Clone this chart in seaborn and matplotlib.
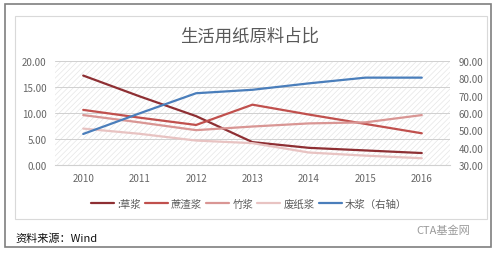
import matplotlib
matplotlib.use("Agg")
import matplotlib.pyplot as plt
import matplotlib.patches as mpatches
from matplotlib.ticker import FormatStrFormatter, FixedLocator
import seaborn as sns
import pandas as pd

years = [2010, 2011, 2012, 2013, 2014, 2015, 2016]
cao = [17.2, 13.2, 9.4, 4.4, 3.3, 2.8, 2.3]
zhezha = [10.6, 9.1, 7.7, 11.6, 9.7, 7.9, 6.1]
zhu = [9.6, 8.2, 6.7, 7.4, 8.0, 8.2, 9.6]
feizhi = [7.0, 6.0, 4.7, 4.2, 2.4, 1.8, 1.3]
mu = [47.9, 59.8, 71.4, 73.4, 77.1, 80.4, 80.4]

names = [":草浆", "蔗渣浆", "竹浆", "废纸浆"]
mu_name = "木浆（右轴）"
title = "生活用纸原料占比"
source = "资料来源：Wind"
colors = ["#8E2F33", "#C0504D", "#D99694", "#E8C3C2"]
blue = "#4A7EBB"

sns.set_theme(style="white")
plt.rcParams["font.family"] = ["Noto Sans CJK SC", "DejaVu Sans"]
plt.rcParams["hatch.linewidth"] = 0.5

df = pd.DataFrame({"year": years * 4,
                   "value": cao + zhezha + zhu + feizhi,
                   "series": sum([[n] * len(years) for n in names], [])})
dfm = pd.DataFrame({"year": years, "value": mu, "series": mu_name})

fig = plt.figure(figsize=(5.0, 2.55), dpi=100)
W, H = 500, 255

# outer frame and inner chart box
fig.patches.append(mpatches.Rectangle((5 / W, 1 - 248 / H), 486 / W, 243 / H,
                                      transform=fig.transFigure, fill=False,
                                      edgecolor="#7f7f7f", linewidth=1.2))
fig.patches.append(mpatches.Rectangle((15 / W, 1 - 220 / H), 472 / W, 203 / H,
                                      transform=fig.transFigure, fill=False,
                                      edgecolor="#d9d9d9", linewidth=0.8))

ax = fig.add_axes([55 / W, 1 - 166 / H, 395 / W, 104 / H])
ax.add_patch(mpatches.Rectangle((0, 0), 1, 1, transform=ax.transAxes,
                                facecolor="white", edgecolor="#e6e6e6",
                                hatch="//////", linewidth=0, zorder=0))

sns.lineplot(data=df, x="year", y="value", hue="series", palette=colors,
             hue_order=names, linewidth=1.6, ax=ax, legend=False, zorder=3)

ax2 = ax.twinx()
sns.lineplot(data=dfm, x="year", y="value", color=blue, linewidth=1.6,
             ax=ax2, legend=False, zorder=3)

ax.set_xlim(2009.5, 2016.5)
ax.set_ylim(0, 20)
ax2.set_ylim(30, 90)
ax.set_yticks([0, 5, 10, 15, 20])
ax2.set_yticks([30, 40, 50, 60, 70, 80, 90])
ax.yaxis.set_major_formatter(FormatStrFormatter("%.2f"))
ax2.yaxis.set_major_formatter(FormatStrFormatter("%.2f"))
ax.set_xticks(years)
ax.set_xticklabels([str(y) for y in years])
ax.xaxis.set_minor_locator(FixedLocator([y + 0.5 for y in years[:-1]] + [2009.5, 2016.5]))
ax.set_xlabel("")
ax.set_ylabel("")
ax2.set_ylabel("")
for a in (ax, ax2):
    for s in a.spines.values():
        s.set_visible(False)
ax.spines["bottom"].set_visible(True)
ax.spines["bottom"].set_color("#d0d0d0")
ax.spines["bottom"].set_linewidth(0.8)
ax.grid(axis="y", color="#d0d0d0", linewidth=0.7, zorder=1)
ax.set_axisbelow(True)
ax.tick_params(axis="x", which="major", length=0, labelsize=7, colors="#666666", pad=6)
ax.tick_params(axis="x", which="minor", length=3, color="#d0d0d0", direction="out")
ax.tick_params(axis="y", length=0, labelsize=7, colors="#666666", pad=6)
ax2.tick_params(axis="y", length=0, labelsize=7, colors="#666666", pad=6)
ax.set_zorder(ax2.get_zorder() - 1)
ax2.patch.set_visible(False)

fig.text(250 / W, 1 - 37 / H, title, ha="center", va="center", fontsize=12.5,
         color="#595959")

handles = [plt.Line2D([], [], color=c, linewidth=1.6) for c in colors]
handles.append(plt.Line2D([], [], color=blue, linewidth=1.6))
fig.legend(handles, names + [mu_name], loc="center", ncol=5,
           bbox_to_anchor=(249 / W, 1 - 205 / H), frameon=False, fontsize=7.5,
           handlelength=2.2, handletextpad=0.3, columnspacing=0.4,
           labelcolor="#595959")

fig.text(15 / W, 1 - 239 / H, source, ha="left", va="center", fontsize=8,
         color="#111111")
fig.text(470 / W, 1 - 231 / H, "CTA基金网", ha="right", va="center", fontsize=8,
         color="#9a9a9a")

fig.savefig("out.png", dpi=100)
